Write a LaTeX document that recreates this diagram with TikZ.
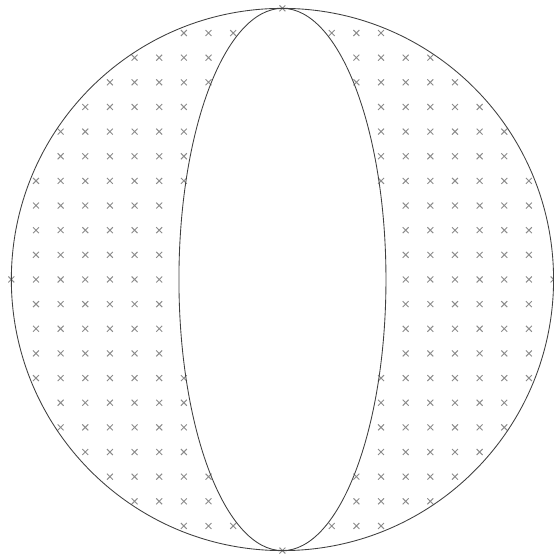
\documentclass[tikz,border=0pt]{standalone}
\begin{document}
\begin{tikzpicture}[x=0.5cm,y=0.5cm,
  outline/.style={draw=black!75,line width=0.5pt},
  xmark/.style={draw=black!45,line width=0.55pt}]
\useasboundingbox (-11.46,-11.30) rectangle (11.01,11.34);
\foreach \i in {-11,...,11}{
  \foreach \j in {-11,...,11}{
    \pgfmathsetmacro\cc{\i*\i+\j*\j}
    \pgfmathsetmacro\ee{\i*\i/(4.2*4.2)+\j*\j/121}
    \ifdim\cc pt<121.01pt
      \ifdim\ee pt>0.999pt
        \draw[xmark] (\i-0.12,\j-0.12) -- (\i+0.12,\j+0.12)
                     (\i-0.12,\j+0.12) -- (\i+0.12,\j-0.12);
      \fi
    \fi
  }
}
\draw[outline] (0,0) circle (11);
\draw[outline] (0,0) ellipse (4.2 and 11);
\end{tikzpicture}
\end{document}
